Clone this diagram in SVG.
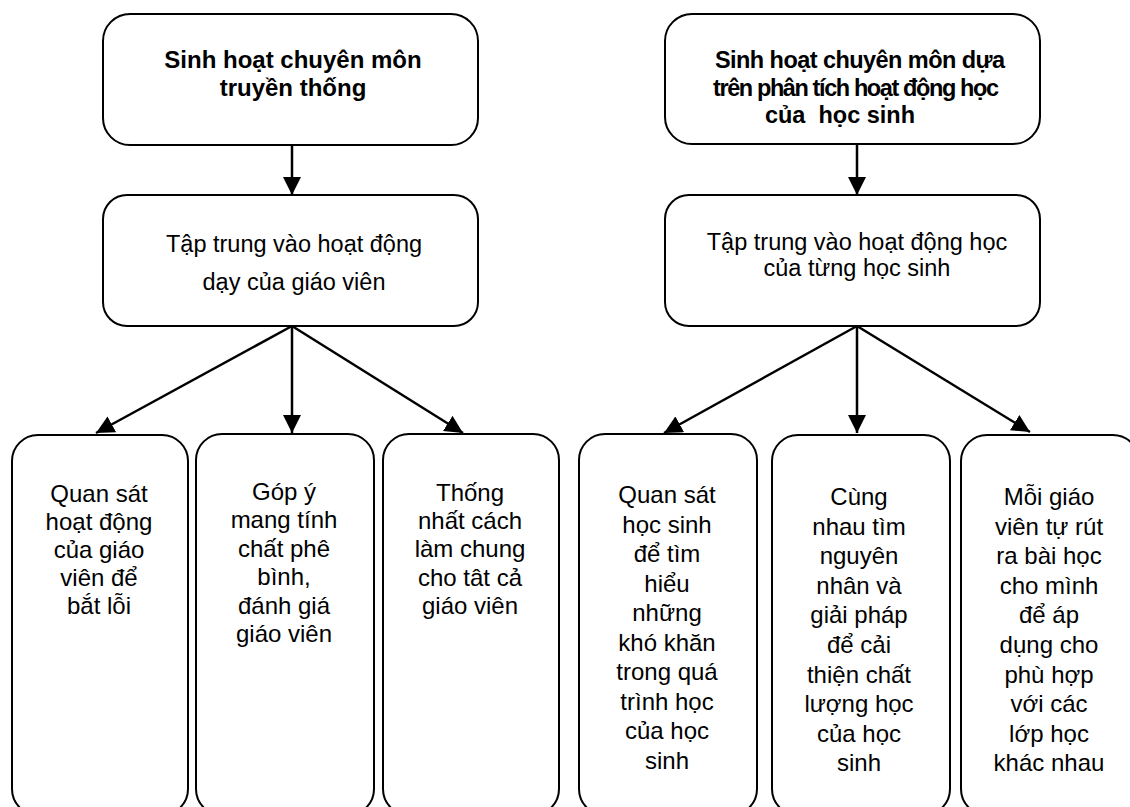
<svg xmlns="http://www.w3.org/2000/svg" width="1130" height="807" viewBox="0 0 1130 807">
<style>
.box{fill:#fff;stroke:#000;stroke-width:2}
.t{font-family:"Liberation Sans",Arial,sans-serif;fill:#000;text-anchor:middle}
.b{font-weight:bold;font-size:24px}
.b2{font-weight:bold;font-size:23.5px}
.m{font-size:23.5px}
.s{font-size:24px}
.c{stroke:#000;stroke-width:2.5;fill:none}
</style>
<defs>
<marker id="ah" viewBox="0 0 18 18" refX="18" refY="9" markerWidth="18" markerHeight="18" markerUnits="userSpaceOnUse" orient="auto">
<path d="M0,0 L18,9 L0,18 z" fill="#000"/>
</marker>
</defs>
<rect width="1130" height="807" fill="#fff"/>

<g id="connectors">
<line class="c" x1="292" y1="145" x2="292" y2="195" marker-end="url(#ah)"/>
<line class="c" x1="857" y1="144" x2="857" y2="195" marker-end="url(#ah)"/>
<line class="c" x1="292" y1="326" x2="96" y2="433" marker-end="url(#ah)"/>
<line class="c" x1="292" y1="326" x2="292" y2="433" marker-end="url(#ah)"/>
<line class="c" x1="292" y1="326" x2="463" y2="433" marker-end="url(#ah)"/>
<line class="c" x1="857" y1="326" x2="664" y2="433" marker-end="url(#ah)"/>
<line class="c" x1="857" y1="326" x2="857" y2="433" marker-end="url(#ah)"/>
<line class="c" x1="857" y1="326" x2="1030" y2="432" marker-end="url(#ah)"/>
</g>

<g id="n-title-left">
<rect class="box" x="103" y="14" width="375" height="131" rx="27"/>
<text class="t b"><tspan x="293" y="68">Sinh hoạt chuyên môn</tspan><tspan x="293" y="96">truyền thống</tspan></text>
</g>

<g id="n-title-right">
<rect class="box" x="665" y="14" width="375" height="130" rx="27"/>
<text class="t b2" x="860" y="68" textLength="290" lengthAdjust="spacing">Sinh hoạt chuyên môn dựa</text>
<text class="t b2" x="856" y="96" textLength="286" lengthAdjust="spacing">trên phân tích hoạt động học</text>
<text class="t b2" x="840" y="123" style="white-space:pre">của  học sinh</text>
</g>

<g id="n-focus-left">
<rect class="box" x="103" y="195" width="375" height="131" rx="24"/>
<text class="t m"><tspan x="294" y="252">Tập trung vào hoạt động</tspan><tspan x="294" y="290">dạy của giáo viên</tspan></text>
</g>

<g id="n-focus-right">
<rect class="box" x="665" y="195" width="375" height="131" rx="24"/>
<text class="t m"><tspan x="857" y="250">Tập trung vào hoạt động học</tspan><tspan x="857" y="276">của từng học sinh</tspan></text>
</g>

<g id="n-l1">
<rect class="box" x="12" y="435" width="176" height="380" rx="26"/>
<text class="t s"><tspan x="99" y="501.5">Quan sát</tspan><tspan x="99" dy="28.2">hoạt động</tspan><tspan x="99" dy="28.2">của giáo</tspan><tspan x="99" dy="28.2">viên để</tspan><tspan x="99" dy="28.2">bắt lỗi</tspan></text>
</g>

<g id="n-l2">
<rect class="box" x="196" y="434" width="178" height="381" rx="26"/>
<text class="t s"><tspan x="284" y="500">Góp ý</tspan><tspan x="284" dy="28.4">mang tính</tspan><tspan x="284" dy="28.4">chất phê</tspan><tspan x="284" dy="28.4">bình,</tspan><tspan x="284" dy="28.4">đánh giá</tspan><tspan x="284" dy="28.4">giáo viên</tspan></text>
</g>

<g id="n-l3">
<rect class="box" x="383" y="434" width="176" height="381" rx="26"/>
<text class="t s"><tspan x="470" y="501">Thống</tspan><tspan x="470" dy="28.2">nhất cách</tspan><tspan x="470" dy="28.2">làm chung</tspan><tspan x="470" dy="28.2">cho tât cả</tspan><tspan x="470" dy="28.2">giáo viên</tspan></text>
</g>

<g id="n-r1">
<rect class="box" x="579" y="434" width="178" height="381" rx="26"/>
<text class="t s"><tspan x="667" y="503">Quan sát</tspan><tspan x="667" dy="29.5">học sinh</tspan><tspan x="667" dy="29.5">để tìm</tspan><tspan x="667" dy="29.5">hiểu</tspan><tspan x="667" dy="29.5">những</tspan><tspan x="667" dy="29.5">khó khăn</tspan><tspan x="667" dy="29.5">trong quá</tspan><tspan x="667" dy="29.5">trình học</tspan><tspan x="667" dy="29.5">của học</tspan><tspan x="667" dy="29.5">sinh</tspan></text>
</g>

<g id="n-r2">
<rect class="box" x="772" y="435" width="178" height="380" rx="26"/>
<text class="t s"><tspan x="859" y="505">Cùng</tspan><tspan x="859" dy="29.6">nhau tìm</tspan><tspan x="859" dy="29.6">nguyên</tspan><tspan x="859" dy="29.6">nhân và</tspan><tspan x="859" dy="29.6">giải pháp</tspan><tspan x="859" dy="29.6">để cải</tspan><tspan x="859" dy="29.6">thiện chất</tspan><tspan x="859" dy="29.6">lượng học</tspan><tspan x="859" dy="29.6">của học</tspan><tspan x="859" dy="29.6">sinh</tspan></text>
</g>

<g id="n-r3">
<rect class="box" x="961" y="435" width="178" height="380" rx="26"/>
<text class="t s"><tspan x="1049" y="505">Mỗi giáo</tspan><tspan x="1049" dy="29.6">viên tự rút</tspan><tspan x="1049" dy="29.6">ra bài học</tspan><tspan x="1049" dy="29.6">cho mình</tspan><tspan x="1049" dy="29.6">để áp</tspan><tspan x="1049" dy="29.6">dụng cho</tspan><tspan x="1049" dy="29.6">phù hợp</tspan><tspan x="1049" dy="29.6">với các</tspan><tspan x="1049" dy="29.6">lớp học</tspan><tspan x="1049" dy="29.6">khác nhau</tspan></text>
</g>
</svg>
